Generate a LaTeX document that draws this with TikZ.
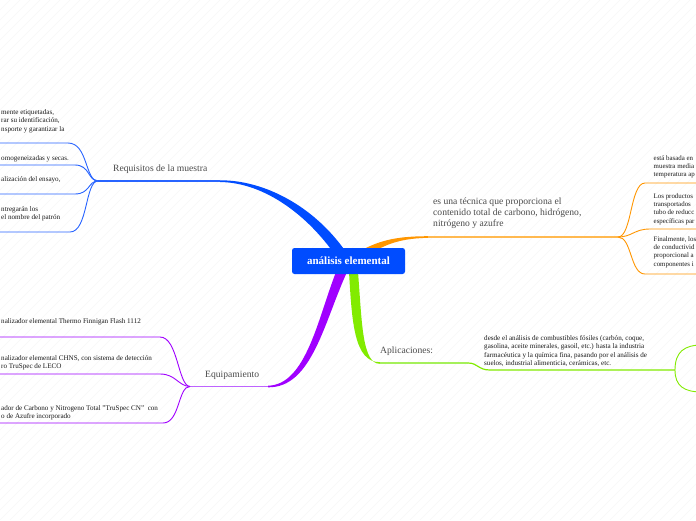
\documentclass[tikz,border=0pt]{standalone}
\usepackage{fontspec}
\setmainfont{Liberation Serif}
\definecolor{cblue}{RGB}{0,76,255}
\definecolor{cbluel}{RGB}{40,100,255}
\definecolor{corange}{RGB}{255,150,0}
\definecolor{corangel}{RGB}{255,185,80}
\definecolor{cpurple}{RGB}{160,0,255}
\definecolor{cpurplel}{RGB}{190,100,255}
\definecolor{cgreen}{RGB}{130,235,0}
\definecolor{cgreenl}{RGB}{165,240,90}
\definecolor{labgray}{RGB}{75,75,75}
\tikzset{
  small/.style={anchor=north west,inner sep=0pt,align=left,text=black!90,font=\fontsize{7.1}{8.2}\selectfont},
  smallr/.style={small,font=\fontsize{6.9}{8.2}\selectfont},
  lab/.style={anchor=north west,inner sep=0pt,align=left,text=labgray,font=\fontsize{9.6}{11.3}\selectfont},
  subline/.style={line width=0.9pt},
  mainthin/.style={line width=1.6pt},
}
\begin{document}
\begin{tikzpicture}[x=1pt,y=-1pt]
\useasboundingbox (0,0) rectangle (696,520);
\begin{scope}
\clip (0,0) rectangle (696,520);
\fill[white] (0,0) rectangle (696,520);
\foreach \i in {-520,-510,...,700} \draw[black!4,line width=0.35pt] (\i,520) -- (\i+520,0);

% hubs and endpoints
\coordinate (bhub) at (98,181);
\coordinate (bend) at (220,181);
\coordinate (phub) at (190,386.5);
\coordinate (pend) at (268,386.5);
\coordinate (ohub) at (618,237);
\coordinate (oend) at (428,237);
\coordinate (ghub) at (468,363);
\coordinate (gend) at (380,363);
\coordinate (gsub) at (675,370);

% blue main
\fill[cblue] (220,180.3) .. controls (264,180) and (314,206) .. (346,252) -- (333,252) .. controls (304,212) and (262,182.5) .. (220,182) -- cycle;
\draw[cbluel,mainthin] (bhub) -- (bend);
% blue subs
\coordinate (b1) at (68,143); \coordinate (b1e) at (-5,143);
\coordinate (b2) at (75,165); \coordinate (b2e) at (-5,165);
\coordinate (b3) at (75,194); \coordinate (b3e) at (-5,194);
\coordinate (b4) at (70,232); \coordinate (b4e) at (-5,232);
\draw[cbluel,subline] (bhub) .. controls (85,181) and (88,143) .. (b1) -- (b1e);
\draw[cbluel,subline] (bhub) .. controls (88,181) and (90,165) .. (b2) -- (b2e);
\draw[cbluel,subline] (bhub) .. controls (88,181) and (90,194) .. (b3) -- (b3e);
\draw[cbluel,subline] (bhub) .. controls (85,181) and (88,232) .. (b4) -- (b4e);

% purple main
\fill[cpurple] (336,272) .. controls (318,318) and (306,385) .. (268,385.7) -- (268,387.3) .. controls (312,388) and (324,322) .. (347,272) -- cycle;
\draw[cpurplel,mainthin] (phub) -- (pend);
\coordinate (p1) at (160,337); \coordinate (p1e) at (-5,337);
\coordinate (p2) at (160,374); \coordinate (p2e) at (-5,374);
\coordinate (p3) at (163,423); \coordinate (p3e) at (-5,423);
\draw[cpurple,subline] (phub) .. controls (178,386) and (178,337) .. (p1) -- (p1e);
\draw[cpurple,subline] (phub) .. controls (178,386) and (176,374) .. (p2) -- (p2e);
\draw[cpurple,subline] (phub) .. controls (178,386) and (180,423) .. (p3) -- (p3e);

% orange main
\fill[corange] (360,251) .. controls (382,239) and (400,236.2) .. (430,236.2) -- (430,237.8) .. controls (402,238) and (386,244) .. (372,253) -- cycle;
\draw[corangel,mainthin] (oend) -- (ohub);
\coordinate (o1) at (645,183); \coordinate (o1e) at (700,183);
\coordinate (o2) at (650,229); \coordinate (o2e) at (700,229);
\coordinate (o3) at (645,274); \coordinate (o3e) at (700,274);
\draw[corange,subline] (ohub) .. controls (632,237) and (630,183) .. (o1) -- (o1e);
\draw[corange,subline] (ohub) .. controls (632,237) and (634,229) .. (o2) -- (o2e);
\draw[corange,subline] (ohub) .. controls (632,237) and (630,274) .. (o3) -- (o3e);

% green main
\fill[cgreen] (349,272) .. controls (352,322) and (354,362.2) .. (380,362.2) -- (380,363.8) .. controls (362,364) and (362,322) .. (358,272) -- cycle;
\draw[cgreenl,mainthin] (gend) -- (ghub);
\draw[cgreen,line width=1.2pt] (ghub) .. controls (478,363) and (478,370) .. (490,370) -- (gsub);
\coordinate (g1) at (702,345); \coordinate (g2) at (702,392);
\draw[cgreen,subline] (gsub) .. controls (675,352) and (684,345) .. (g1);
\draw[cgreen,subline] (gsub) .. controls (675,386) and (684,392) .. (g2);
\end{scope}

% central node
\node[fill=cblue,rounded corners=2.5pt,minimum width=113pt,minimum height=26pt,inner sep=0pt,text=white,font=\fontsize{11}{13}\selectfont\bfseries] (root) at (348.5,261) {análisis elemental};

% labels
\node[lab] (lreq) at (113,164.5) {Requisitos de la muestra};
\node[lab] (leq) at (205,370.5) {Equipamiento};
\node[lab] (lap) at (380,346.5) {Aplicaciones:};
\node[lab] (lor) at (433,197.5) {es una técnica que proporciona el\\contenido total de carbono, hidrógeno,\\nitrógeno y azufre};

% small texts
\node[small] (t1) at (1,109.5) {mente etiquetadas,\\rar su identificación,\\nsporte y garantizar la};
\node[small] (t2) at (1,155.5) {omogeneizadas y secas.};
\node[small] (t3) at (1,176.5) {alización del ensayo,};
\node[small] (t4) at (1,206) {ntregarán los\\el nombre del patrón};
\node[small] (t5) at (1,318.5) {nalizador elemental Thermo Finnigan Flash 1112};
\node[small] (t6) at (1,355.5) {nalizador elemental CHNS, con sistema de detección\\ro TruSpec de LECO};
\node[small] (t7) at (1,405.5) {ador de Carbono y Nitrogeno Total "TruSpec CN"\ \ con\\o de Azufre incorporado};
\node[smallr] (t8) at (653.5,155.5) {está basada en\\muestra media\\temperatura ap};
\node[smallr] (t9) at (653.5,193.5) {Los productos\\transportados\\tubo de reducc\\específicas par};
\node[smallr] (t10) at (653.5,236.5) {Finalmente, los\\de conductivid\\proporcional a\\componentes i};
\node[small] (t11) at (484,335.5) {desde el análisis de combustibles fósiles (carbón, coque,\\gasolina, aceite minerales, gasoil, etc.) hasta la industria\\farmacéutica y la química fina, pasando por el análisis de\\suelos, industrial alimenticia, cerámicas, etc.};
\end{tikzpicture}
\end{document}
